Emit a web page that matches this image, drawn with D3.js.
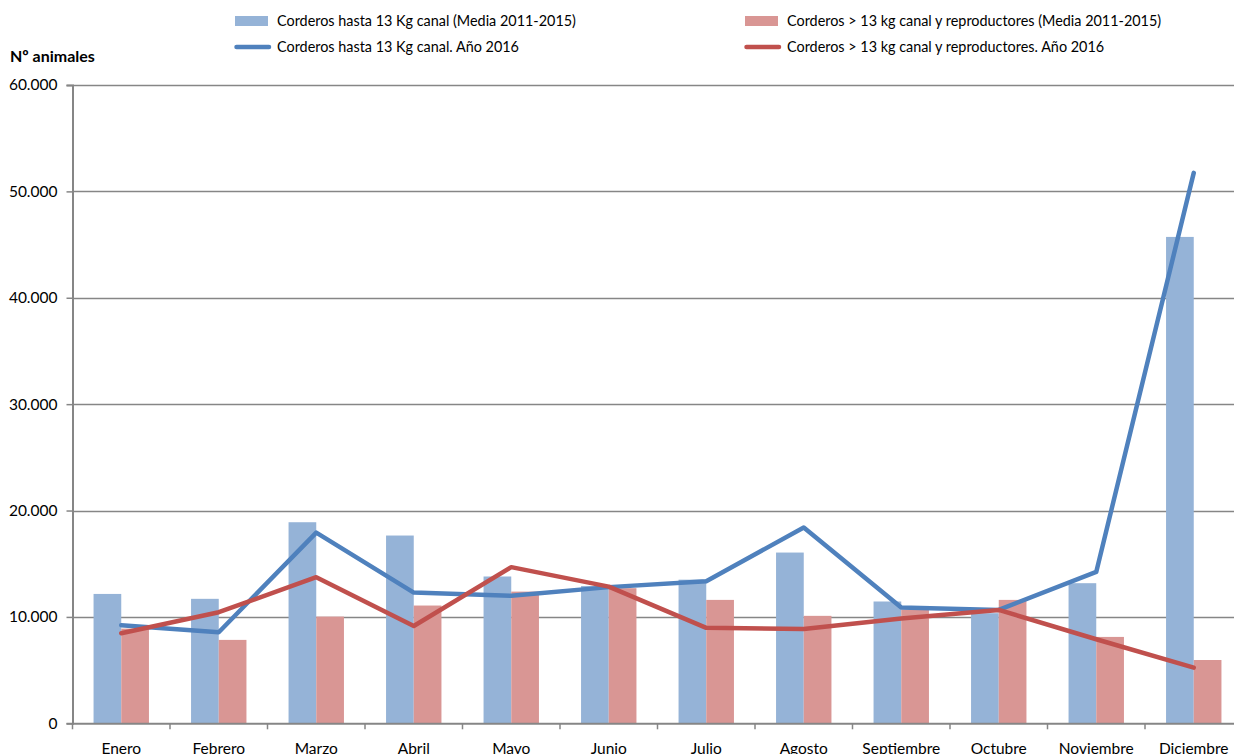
<!DOCTYPE html>
<html><head><meta charset="utf-8">
<script src="https://cdn.jsdelivr.net/npm/d3@7"></script>
<style>html,body{margin:0;padding:0;background:#fff;overflow:hidden}svg{display:block}</style>
</head><body><svg id="c" width="1234" height="754"></svg>
<script>
const months = ["Enero","Febrero","Marzo","Abril","Mayo","Junio","Julio","Agosto","Septiembre","Octubre","Noviembre","Diciembre"];
const ligeroMedia = [12160,11700,18900,17650,13800,12900,13500,16050,11450,10350,13170,45720];
const pesadoMedia = [8900,7840,10030,11070,12380,12700,11600,10100,10700,11600,8120,5950];
const ligero2016 = [9220,8560,17930,12290,11980,12800,13360,18400,10880,10660,14230,51740];
const pesado2016 = [8470,10440,13730,9150,14680,12850,8970,8870,9850,10660,7900,5230];
const yTicks = [0,10000,20000,30000,40000,50000,60000];
const legendLabels = ["Corderos hasta 13 Kg canal (Media 2011-2015)","Corderos > 13 kg canal y reproductores (Media 2011-2015)","Corderos hasta 13 Kg canal. Año 2016","Corderos > 13 kg canal y reproductores. Año 2016"];

const C = {barA:"#95B3D7", barB:"#D99694", lineA:"#4F81BD", lineB:"#C0504D", axis:"#868686"};
const svg = d3.select("#c");
const font = "Lato, 'Open Sans', sans-serif";
const x0 = 72.5, x1 = 1242.5, yTop = 85, yBot = 723.3;
const x = d3.scaleBand().domain(months).range([x0, x1]).paddingInner(0).paddingOuter(0);
const y = d3.scaleLinear().domain([0,60000]).range([yBot, yTop]);
const inner = d3.scaleBand().domain(["a","b"]).range([0, 55.4]);
const off = (x.bandwidth() - 55.4)/2;

// gridlines
svg.append("g").selectAll("line").data(yTicks.filter(d=>d>0)).join("line")
  .attr("x1", x0).attr("x2", 1234).attr("y1", d=>Math.round(y(d))+0.5).attr("y2", d=>Math.round(y(d))+0.5)
  .attr("stroke", C.axis).attr("stroke-width", 1.3);

// bars
const g = svg.append("g");
g.selectAll(".ba").data(months).join("rect")
  .attr("x", (d)=>x(d)+off+inner("a")).attr("width", inner.bandwidth())
  .attr("y", (d,i)=>y(ligeroMedia[i])).attr("height", (d,i)=>yBot - y(ligeroMedia[i])).attr("fill", C.barA);
g.selectAll(".bb").data(months).join("rect")
  .attr("x", (d)=>x(d)+off+inner("b")).attr("width", inner.bandwidth())
  .attr("y", (d,i)=>y(pesadoMedia[i])).attr("height", (d,i)=>yBot - y(pesadoMedia[i])).attr("fill", C.barB);

// y axis
const yAxis = d3.axisLeft(y).tickValues(yTicks).tickSize(6).tickFormat(d=>d===0?"0":d3.format(",")(d).replace(/,/g,"."));
const ya = svg.append("g").attr("transform", `translate(${x0},0)`).call(yAxis);
ya.select(".domain").attr("stroke", C.axis).attr("stroke-width", 2);
ya.selectAll(".tick line").attr("stroke", C.axis).attr("stroke-width", 1.5);
ya.selectAll(".tick text").attr("font-family", font).attr("font-size", 15.5).attr("fill", "#000").attr("x", -15);

// x axis
const xAxis = d3.axisBottom(x).tickSize(0);
const xa = svg.append("g").attr("transform", `translate(0,${yBot})`).call(xAxis);
xa.select(".domain").attr("stroke", C.axis).attr("stroke-width", 2);
xa.selectAll(".tick text").attr("font-family", font).attr("font-size", 15.5).attr("fill", "#000").attr("dy", 0).attr("y", 31);
svg.append("g").selectAll("line").data(months).join("line")
  .attr("x1", d=>x(d)).attr("x2", d=>x(d)).attr("y1", yBot).attr("y2", yBot+6)
  .attr("stroke", C.axis).attr("stroke-width", 1.5);

// lines
const line = d3.line().x((d,i)=>x(months[i]) + x.bandwidth()/2).y(d=>y(d));
svg.append("path").datum(ligero2016).attr("d", line).attr("fill","none").attr("stroke", C.lineA).attr("stroke-width", 4.5).attr("stroke-linecap","round").attr("stroke-linejoin","round");
svg.append("path").datum(pesado2016).attr("d", line).attr("fill","none").attr("stroke", C.lineB).attr("stroke-width", 4.5).attr("stroke-linecap","round").attr("stroke-linejoin","round");

// y title
svg.append("text").attr("x", 10).attr("y", 62).attr("font-family", font).attr("font-weight", "bold").attr("font-size", 16).text("Nº animales");

// legend
const leg = [
  {x:235, y:21, type:"rect", color:C.barA, label:legendLabels[0]},
  {x:745, y:21, type:"rect", color:C.barB, label:legendLabels[1]},
  {x:235, y:47, type:"line", color:C.lineA, label:legendLabels[2]},
  {x:745, y:47, type:"line", color:C.lineB, label:legendLabels[3]}
];
const lg = svg.append("g").selectAll("g").data(leg).join("g").attr("transform", d=>`translate(${d.x},${d.y})`);
lg.filter(d=>d.type==="rect").append("rect").attr("x",0).attr("y",-5).attr("width",33).attr("height",10).attr("fill", d=>d.color);
lg.filter(d=>d.type==="line").append("line").attr("x1",1.5).attr("x2",34).attr("y1",0).attr("y2",0).attr("stroke", d=>d.color).attr("stroke-width",4.5).attr("stroke-linecap","round");
lg.append("text").attr("x", 42).attr("y", 5).attr("font-family", font).attr("font-size", 14.4).text(d=>d.label);
</script></body></html>
